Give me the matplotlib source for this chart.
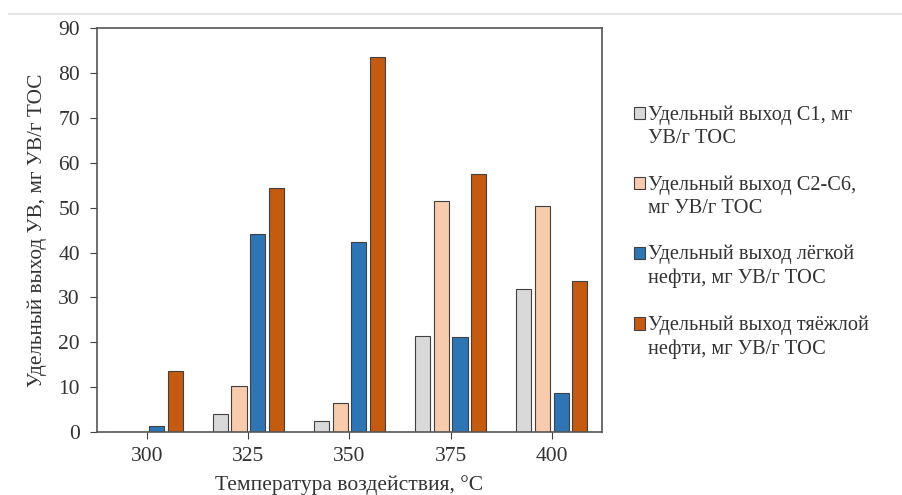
import numpy as np
import matplotlib.pyplot as plt
from matplotlib.lines import Line2D
from matplotlib.patches import Rectangle
from matplotlib.legend_handler import HandlerPatch

plt.rcParams['font.family'] = ['Liberation Serif', 'DejaVu Serif']

# data
temps = ['300', '325', '350', '375', '400']
c1 = [0.1, 4.1, 2.5, 21.4, 31.8]
c2c6 = [0.1, 10.3, 6.4, 51.6, 50.3]
light_oil = [1.4, 44.1, 42.3, 21.2, 8.8]
heavy_oil = [13.6, 54.5, 83.6, 57.5, 33.6]

labels = ['Удельный выход С1, мг\nУВ/г ТОС',
          'Удельный выход С2-С6,\nмг УВ/г ТОС',
          'Удельный выход лёгкой\nнефти, мг УВ/г ТОС',
          'Удельный выход тяёжлой\nнефти, мг УВ/г ТОС']
colors = ['#d9d9d9', '#f8cbad', '#2e75b6', '#c55a11']
series = [c1, c2c6, light_oil, heavy_oil]


# legend square sits next to the first line of a two-line label
class FirstLineHandler(HandlerPatch):
    def create_artists(self, legend, orig_handle, xdescent, ydescent,
                       width, height, fontsize, trans):
        p = Rectangle((-xdescent, -ydescent + 0.66 * fontsize), width, height)
        self.update_prop(p, orig_handle, legend)
        p.set_transform(trans)
        return [p]


fig = plt.figure(figsize=(9.03, 4.95), dpi=100)
ax = fig.add_axes([0.107, 0.127, 0.560, 0.816])

x = np.arange(len(temps))
width = 0.15
step = 0.185
handles = []
for i, (vals, col, lab) in enumerate(zip(series, colors, labels)):
    b = ax.bar(x + (i - 1.5) * step, vals, width, color=col, edgecolor='#404040',
               linewidth=0.8, label=lab)
    handles.append(b.patches[0])

ax.set_xlim(-0.5, 4.5)
ax.set_ylim(0, 90)
ax.set_yticks(range(0, 91, 10))
ax.set_xticks(x)
ax.set_xticklabels(temps)
ax.tick_params(labelsize=15.5, colors='#404040', labelcolor='#333333', length=5)
ax.tick_params(axis='y', pad=7)
ax.tick_params(axis='x', pad=6)
for s in ax.spines.values():
    s.set_color('#555555')
    s.set_linewidth(1.2)

ax.set_xlabel('Температура воздействия, °С', fontsize=15.5, color='#333333', labelpad=6)
ax.set_ylabel('Удельный выход УВ, мг УВ/г ТОС', fontsize=15.3, color='#333333', labelpad=8)

leg = fig.legend(handles, labels, loc='upper left', bbox_to_anchor=(0.691, 0.808),
                 frameon=False, fontsize=14.7, handlelength=0.55, handleheight=0.55,
                 handletextpad=0.12, labelspacing=1.33, labelcolor='#333333', borderpad=0,
                 handler_map={Rectangle: FirstLineHandler()})
for t in leg.get_texts():
    t.set_linespacing(1.3)

# faint line at the very top of the screenshot
fig.add_artist(Line2D([0.01, 1.0], [0.972, 0.972], color='#e4e4e4', linewidth=1.5))

plt.savefig('out.png', dpi=100)
